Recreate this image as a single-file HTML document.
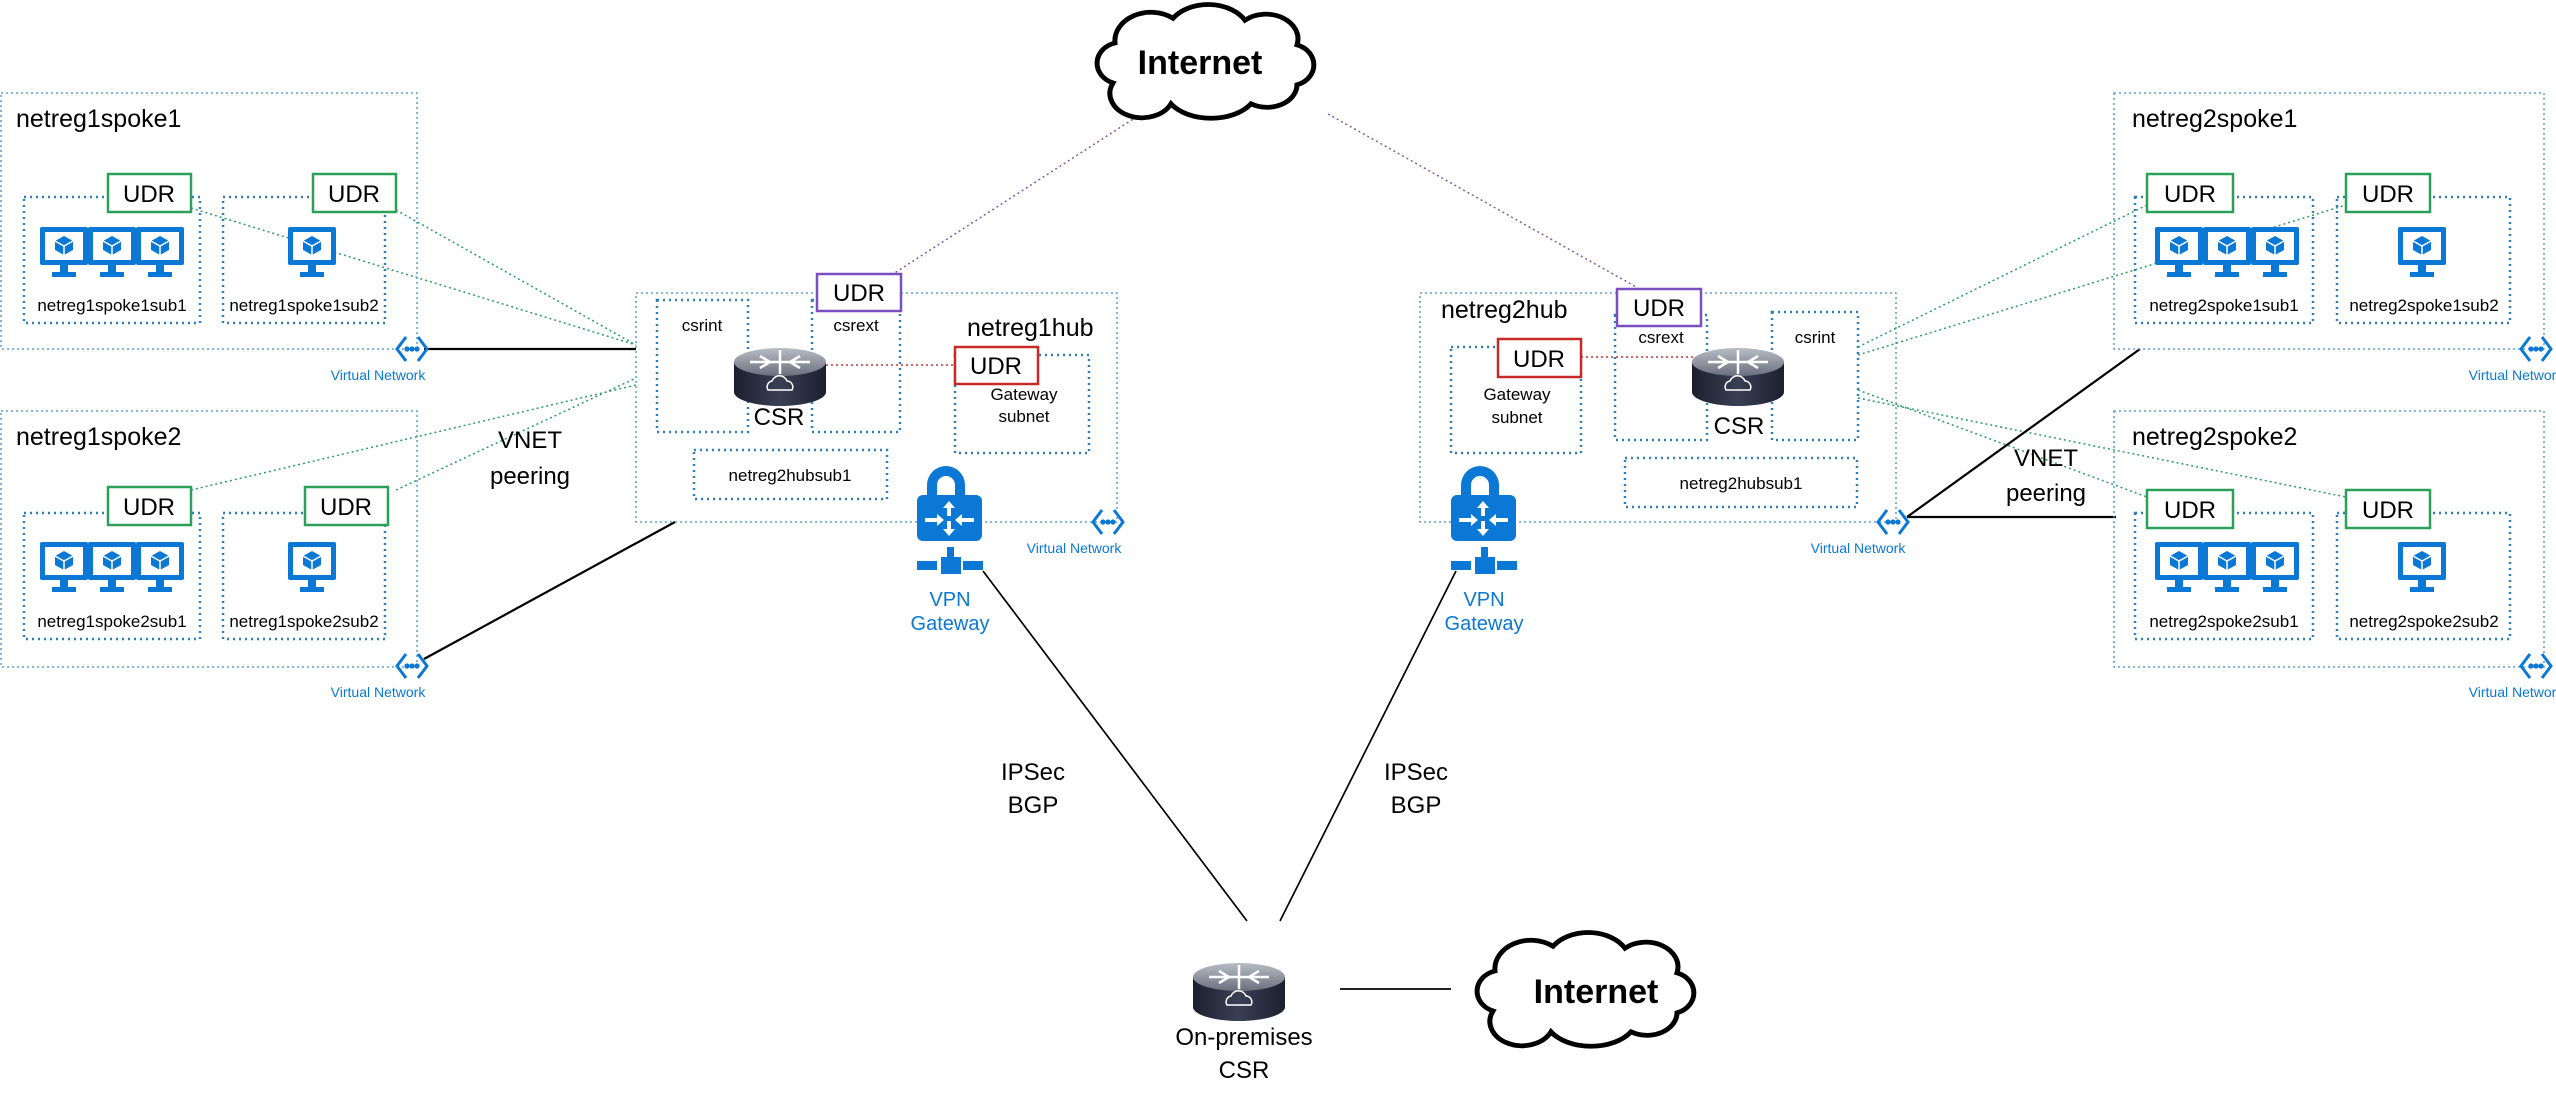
<!DOCTYPE html>
<html><head><meta charset="utf-8"><style>
html,body{margin:0;padding:0;background:#fff;}
svg{display:block;font-family:"Liberation Sans",sans-serif;}
</style></head><body>
<svg width="2556" height="1100" viewBox="0 0 2556 1100" xmlns="http://www.w3.org/2000/svg">
<defs>
<g id="mon">
<rect x="0" y="0" width="48" height="38" rx="2" fill="#0a78d4"/>
<rect x="5" y="5" width="38" height="28" fill="#fff"/>
<path d="M24 9 l9 5 v9 l-9 5 l-9 -5 v-9z" fill="#0a78d4"/>
<path d="M15 14 l9 5 l9 -5 M24 19 v9" stroke="#fff" stroke-width="1.5" fill="none"/>
<rect x="20" y="38" width="8" height="7" fill="#0a78d4"/>
<rect x="12" y="45" width="24" height="5" fill="#0a78d4"/>
</g>
<g id="vm3"><use href="#mon" x="0"/><use href="#mon" x="48"/><use href="#mon" x="96"/></g>
<linearGradient id="rt" x1="0" y1="0" x2="0" y2="1"><stop offset="0" stop-color="#b8bcc6"/><stop offset="1" stop-color="#6a6f7c"/></linearGradient>
<linearGradient id="rb" x1="0" y1="0" x2="1" y2="0"><stop offset="0" stop-color="#1c1f2e"/><stop offset="0.5" stop-color="#3a3f55"/><stop offset="1" stop-color="#1c1f2e"/></linearGradient>
<g id="router">
<path d="M-46 -8 v30 a46 14 0 0 0 92 0 v-30z" fill="url(#rb)"/>
<ellipse cx="0" cy="-8" rx="46" ry="14" fill="url(#rt)"/>
<path d="M-30 -8 h60 M0 -20 v24 M-20 -14 l10 6 l-10 6 M20 -14 l-10 6 l10 6" stroke="#fff" stroke-width="2.5" fill="none"/>
<path d="M-12 20 a6 6 0 0 1 4 -9 a8 8 0 0 1 15 0 a6 6 0 0 1 5 9z" stroke="#fff" stroke-width="1.5" fill="none"/>
</g>
<g id="vpn">
<path d="M10 27 v-10 a19 19 0 0 1 38 0 v10 h-10 v-10 a9 9 0 0 0 -18 0 v10z" fill="#0a78d4"/>
<rect x="0" y="27" width="65" height="46" rx="6" fill="#0a78d4"/>
<path d="M32 33 l-6 7 h4 v8 h4 v-8 h4z M32 68 l-6 -7 h4 v-8 h4 v8 h4z M8 50 h12 v-4 l7 6 l-7 6 v-4 h-12z M57 50 h-12 v-4 l-7 6 l7 6 v-4 h12z" fill="#fff"/>
<rect x="30" y="79" width="7" height="10" fill="#0a78d4"/>
<rect x="24" y="89" width="20" height="17" fill="#0a78d4"/>
<rect x="0" y="93" width="20" height="9" fill="#0a78d4"/>
<rect x="46" y="93" width="20" height="9" fill="#0a78d4"/>
</g>
<g id="vnet">
<path d="M-6 -12 l-9 12 l9 12 M6 -12 l9 12 l-9 12" stroke="#0a78d4" stroke-width="3" fill="none"/>
<circle cx="-5" cy="0" r="2.6" fill="#0a78d4"/><circle cx="0" cy="0" r="2.6" fill="#0a78d4"/><circle cx="5" cy="0" r="2.6" fill="#0a78d4"/>
</g>
<path id="cloud" d="M-95 22 a24 22 0 0 1 2 -42 a36 30 0 0 1 58 -26 a42 32 0 0 1 72 2 a32 26 0 0 1 52 26 a24 22 0 0 1 0 42 a30 24 0 0 1 -46 20 a46 30 0 0 1 -80 0 a30 24 0 0 1 -58 -22z" fill="#fff" stroke="#000" stroke-width="5"/>
</defs>

<!-- connectors -->
<g fill="none">
<path d="M1141 114 L893 274 M1328 114 L1638 288" stroke="#7a5fa8" stroke-width="1.5" stroke-dasharray="2 3"/>
<path d="M826 365 L955 365 M1581 357 L1695 357" stroke="#c83232" stroke-width="1.5" stroke-dasharray="2 3"/>
<g stroke="#2e9a6a" stroke-width="1.5" stroke-dasharray="2 3">
<path d="M191 208 L636 345 M396 210 L636 345 M191 490 L636 385 M396 490 L636 378"/>
<path d="M1858 347 L2147 205 M1858 355 L2346 205 M1858 390 L2147 497 M1858 398 L2346 497"/>
</g>
<g stroke="#000" stroke-width="2.2">
<path d="M424 349 L636 349 M424 659 L675 522 M1907 517 L2140 349 M1907 517 L2116 517"/>
</g>
<g stroke="#000" stroke-width="1.7">
<path d="M983 571 L1247 921 M1456 571 L1280 921 M1340 989 L1451 989"/>
</g>
</g>

<!-- clouds -->
<use href="#cloud" transform="translate(1208,62) scale(1.0,0.95)"/>
<text x="1200" y="74" font-size="34" font-weight="bold" text-anchor="middle">Internet</text>
<use href="#cloud" transform="translate(1588,990) scale(1.0,0.95)"/>
<text x="1596" y="1003" font-size="34" font-weight="bold" text-anchor="middle">Internet</text>

<!-- spoke boxes -->
<g fill="none" stroke="#3d8fcf" stroke-width="1.3" stroke-dasharray="2 3">
<rect x="1" y="93" width="416" height="256"/>
<rect x="1" y="411" width="416" height="256"/>
<rect x="2114" y="93" width="430" height="256"/>
<rect x="2114" y="411" width="430" height="256"/>
<rect x="636" y="293" width="481" height="229"/>
<rect x="1420" y="293" width="476" height="229"/>
</g>
<g fill="none" stroke="#2f7fbf" stroke-width="2.5" stroke-dasharray="2 4">
<rect x="24" y="197" width="176" height="126"/><rect x="223" y="197" width="162" height="126"/>
<rect x="24" y="513" width="176" height="126"/><rect x="223" y="513" width="162" height="126"/>
<rect x="2135" y="197" width="178" height="126"/><rect x="2337" y="197" width="173" height="126"/>
<rect x="2135" y="513" width="178" height="126"/><rect x="2337" y="513" width="173" height="126"/>
<rect x="657" y="300" width="91" height="132"/><rect x="812" y="300" width="88" height="132"/>
<rect x="955" y="355" width="134" height="98"/><rect x="694" y="450" width="193" height="49"/>
<rect x="1615" y="315" width="92" height="125"/><rect x="1772" y="312" width="86" height="128"/>
<rect x="1451" y="347" width="130" height="106"/><rect x="1625" y="458" width="232" height="49"/>
</g>

<!-- UDR boxes -->
<g stroke-width="2.5" fill="#fff">
<g stroke="#2aa05a">
<rect x="108" y="174" width="83" height="38"/><rect x="313" y="174" width="83" height="38"/>
<rect x="108" y="487" width="83" height="38"/><rect x="305" y="487" width="83" height="38"/>
<rect x="2147" y="174" width="86" height="38"/><rect x="2346" y="174" width="84" height="38"/>
<rect x="2147" y="490" width="86" height="38"/><rect x="2346" y="490" width="84" height="38"/>
</g>
<rect x="817" y="274" width="84" height="37" stroke="#7a4fbf"/>
<rect x="1617" y="289" width="84" height="37" stroke="#7a4fbf"/>
<rect x="955" y="347" width="83" height="37" stroke="#c82828"/>
<rect x="1498" y="339" width="83" height="38" stroke="#c82828"/>
</g>
<g font-size="24" text-anchor="middle">
<text x="149" y="202">UDR</text><text x="354" y="202">UDR</text>
<text x="149" y="515">UDR</text><text x="346" y="515">UDR</text>
<text x="2190" y="202">UDR</text><text x="2388" y="202">UDR</text>
<text x="2190" y="518">UDR</text><text x="2388" y="518">UDR</text>
<text x="859" y="301">UDR</text><text x="1659" y="316">UDR</text>
<text x="996" y="374">UDR</text><text x="1539" y="367">UDR</text>
</g>

<!-- VMs -->
<use href="#vm3" x="40" y="227"/><use href="#mon" x="288" y="227"/>
<use href="#vm3" x="40" y="542"/><use href="#mon" x="288" y="542"/>
<use href="#vm3" x="2155" y="227"/><use href="#mon" x="2398" y="227"/>
<use href="#vm3" x="2155" y="542"/><use href="#mon" x="2398" y="542"/>

<g font-size="17" text-anchor="middle">
<text x="112" y="311">netreg1spoke1sub1</text><text x="304" y="311">netreg1spoke1sub2</text>
<text x="112" y="627">netreg1spoke2sub1</text><text x="304" y="627">netreg1spoke2sub2</text>
<text x="2224" y="311">netreg2spoke1sub1</text><text x="2424" y="311">netreg2spoke1sub2</text>
<text x="2224" y="627">netreg2spoke2sub1</text><text x="2424" y="627">netreg2spoke2sub2</text>
<text x="702" y="331">csrint</text><text x="856" y="331">csrext</text>
<text x="1024" y="400">Gateway</text><text x="1024" y="422">subnet</text>
<text x="790" y="481">netreg2hubsub1</text>
<text x="1661" y="343">csrext</text><text x="1815" y="343">csrint</text>
<text x="1517" y="400">Gateway</text><text x="1517" y="423">subnet</text>
<text x="1741" y="489">netreg2hubsub1</text>
</g>

<g font-size="25">
<text x="16" y="127">netreg1spoke1</text><text x="16" y="445">netreg1spoke2</text>
<text x="2132" y="127">netreg2spoke1</text><text x="2132" y="445">netreg2spoke2</text>
<text x="967" y="336">netreg1hub</text><text x="1441" y="318">netreg2hub</text>
</g>

<use href="#router" x="780" y="370"/><use href="#router" x="1738" y="370"/>
<use href="#router" x="1239" y="985"/>
<g font-size="24" text-anchor="middle">
<text x="779" y="425">CSR</text><text x="1739" y="434">CSR</text>
<text x="1244" y="1045">On-premises</text><text x="1244" y="1078">CSR</text>
<text x="530" y="448">VNET</text><text x="530" y="484">peering</text>
<text x="2046" y="466">VNET</text><text x="2046" y="501">peering</text>
<text x="1033" y="780">IPSec</text><text x="1033" y="813">BGP</text>
<text x="1416" y="780">IPSec</text><text x="1416" y="813">BGP</text>
</g>

<use href="#vpn" x="917" y="468"/><use href="#vpn" x="1451" y="468"/>
<g font-size="20" fill="#0a78d4" text-anchor="middle">
<text x="950" y="606">VPN</text><text x="950" y="630">Gateway</text>
<text x="1484" y="606">VPN</text><text x="1484" y="630">Gateway</text>
</g>
<use href="#vnet" x="412" y="349"/><use href="#vnet" x="412" y="666"/>
<use href="#vnet" x="1108" y="522"/><use href="#vnet" x="1893" y="522"/>
<use href="#vnet" x="2536" y="349"/><use href="#vnet" x="2536" y="666"/>
<g font-size="14" fill="#0a78d4" text-anchor="middle">
<text x="378" y="380">Virtual Network</text><text x="378" y="697">Virtual Network</text>
<text x="1074" y="553">Virtual Network</text><text x="1858" y="553">Virtual Network</text>
<text x="2516" y="380">Virtual Network</text><text x="2516" y="697">Virtual Network</text>
</g>
</svg>
</body></html>
